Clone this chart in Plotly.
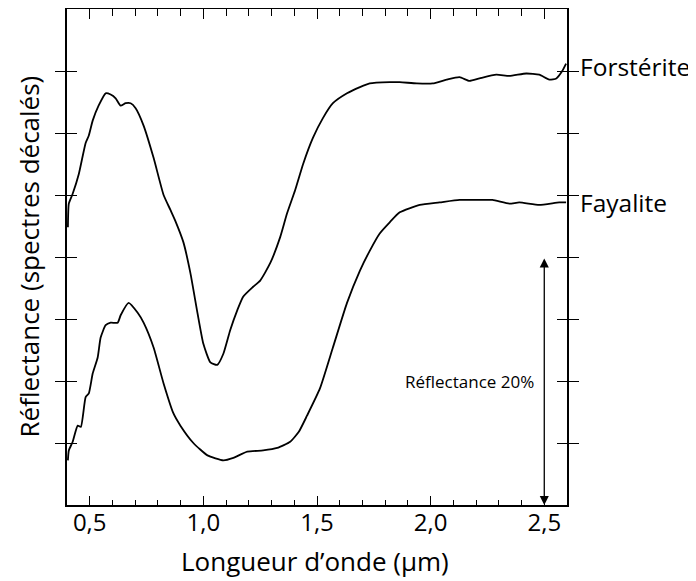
import plotly.graph_objects as go

# Spectres de réflectance (décalés verticalement)
forsterite_wl = [0.404, 0.408, 0.425, 0.452, 0.482, 0.496, 0.513, 0.539, 0.570, 0.592,
                 0.614, 0.636, 0.658, 0.680, 0.702, 0.737, 0.781, 0.825, 0.855, 0.877,
                 0.912, 0.943, 0.974, 1.000, 1.031, 1.061, 1.088, 1.118, 1.149, 1.175,
                 1.219, 1.250, 1.294, 1.338, 1.368, 1.404, 1.439, 1.482, 1.526, 1.570,
                 1.632, 1.689, 1.732, 1.820, 1.864, 1.939, 2.009, 2.070, 2.127, 2.171,
                 2.215, 2.289, 2.346, 2.421, 2.478, 2.522, 2.553, 2.579, 2.596]
forsterite_refl = [22.4, 24.3, 25.1, 26.7, 29.2, 29.8, 31.0, 32.2, 33.2, 33.1,
                   32.8, 32.2, 32.4, 32.4, 32.0, 30.6, 28.0, 25.0, 23.8, 22.9,
                   21.2, 18.7, 15.5, 13.0, 11.5, 11.3, 12.2, 14.1, 15.7, 16.8,
                   17.6, 18.1, 19.5, 21.6, 23.5, 25.4, 27.5, 29.6, 31.2, 32.4,
                   33.2, 33.7, 34.0, 34.1, 34.1, 34.0, 34.0, 34.3, 34.5, 34.2,
                   34.4, 34.7, 34.6, 34.8, 34.7, 34.3, 34.4, 35.0, 35.6]

fayalite_wl = [0.404, 0.408, 0.425, 0.447, 0.461, 0.482, 0.496, 0.513, 0.535, 0.548,
               0.570, 0.592, 0.623, 0.636, 0.671, 0.711, 0.737, 0.781, 0.825, 0.868,
               0.899, 0.956, 1.018, 1.088, 1.132, 1.193, 1.263, 1.325, 1.382, 1.420,
               1.456, 1.513, 1.570, 1.632, 1.689, 1.732, 1.776, 1.820, 1.864, 1.952,
               2.039, 2.127, 2.215, 2.272, 2.346, 2.390, 2.478, 2.566, 2.596]
fayalite_refl = [3.6, 4.4, 5.1, 6.4, 6.3, 8.7, 9.0, 10.6, 11.9, 13.5,
                 14.5, 14.7, 14.7, 15.3, 16.3, 15.5, 14.7, 12.7, 9.8, 7.4,
                 6.4, 5.0, 4.0, 3.6, 3.8, 4.3, 4.4, 4.6, 5.1, 5.9,
                 7.2, 9.4, 12.7, 16.3, 18.9, 20.5, 21.9, 22.8, 23.6, 24.2,
                 24.4, 24.6, 24.6, 24.6, 24.3, 24.4, 24.2, 24.4, 24.4]

x_range = [0.4, 2.6]
y_range = [0, 40]
scale_wl = 2.5
scale_low, scale_high = 0, 20

font = "Open Sans, sans-serif"

fig = go.Figure()
line_style = dict(color="black", width=1.8, shape="spline", smoothing=0.5)
fig.add_trace(go.Scatter(x=forsterite_wl, y=forsterite_refl, mode="lines",
                         line=line_style, name="Forstérite"))
fig.add_trace(go.Scatter(x=fayalite_wl, y=fayalite_refl, mode="lines",
                         line=line_style, name="Fayalite"))
# trace invisible pour faire apparaître l'axe du haut
fig.add_trace(go.Scatter(x=x_range, y=y_range, mode="lines", xaxis="x2",
                         line=dict(width=0), hoverinfo="skip", showlegend=False))

# flèche d'échelle 20 %
fig.add_annotation(x=scale_wl, y=scale_low, ax=scale_wl, ay=scale_high,
                   xref="x", yref="y", axref="x", ayref="y", text="",
                   showarrow=True, arrowhead=2, arrowside="end+start",
                   arrowsize=1.4, arrowwidth=1.3, arrowcolor="black")
fig.add_annotation(x=2.465, y=10, xref="x", yref="y", text="Réflectance 20%",
                   showarrow=False, xanchor="right", yanchor="middle",
                   font=dict(size=17, color="black", family=font))

# noms des spectres
fig.add_annotation(x=1.021, y=forsterite_refl[-1] - 0.2, xref="paper", yref="y",
                   text="Forstérite", showarrow=False, xanchor="left",
                   font=dict(size=24.5, color="black", family=font))
fig.add_annotation(x=1.021, y=fayalite_refl[-1], xref="paper", yref="y",
                   text="Fayalite", showarrow=False, xanchor="left",
                   font=dict(size=24.5, color="black", family=font))

# titres des axes
fig.add_annotation(x=-0.077, y=0.5, xref="paper", yref="paper", textangle=-90,
                   text="Réflectance (spectres décalés)", showarrow=False,
                   xanchor="center", yanchor="middle",
                   font=dict(size=26, color="black", family=font))
fig.add_annotation(x=0.495, y=-0.113, xref="paper", yref="paper",
                   text="Longueur d’onde (µm)", showarrow=False,
                   xanchor="center", yanchor="middle",
                   font=dict(size=26, color="black", family=font))

axis_common = dict(showline=True, linecolor="black", linewidth=1.5,
                   ticks="inside", tickcolor="black", showgrid=False, zeroline=False)
minor_x = dict(dtick=0.1, tick0=0.4, ticks="inside", ticklen=5,
               tickwidth=1.2, tickcolor="black", showgrid=False)

fig.update_layout(
    xaxis=dict(range=x_range, dtick=0.5, tick0=0.5, ticklen=9, tickwidth=1.3,
               tickformat=".1f", minor=minor_x, mirror=True, ticklabelstandoff=-5,
               tickfont=dict(size=24, color="black", family=font), **axis_common),
    xaxis2=dict(range=x_range, dtick=0.5, tick0=0.5, ticklen=10, tickwidth=1.3,
                overlaying="x", side="top", showticklabels=False,
                minor=dict(minor_x, ticklen=7), **axis_common),
    yaxis=dict(range=y_range, dtick=5, ticklen=10, tickwidth=1.3,
               showticklabels=False, mirror="allticks", **axis_common),
    width=688, height=573, showlegend=False,
    separators=", ",
    margin=dict(l=59, r=129, t=1, b=76, autoexpand=False),
    plot_bgcolor="white", paper_bgcolor="white",
)

fig.write_html("out.html")
